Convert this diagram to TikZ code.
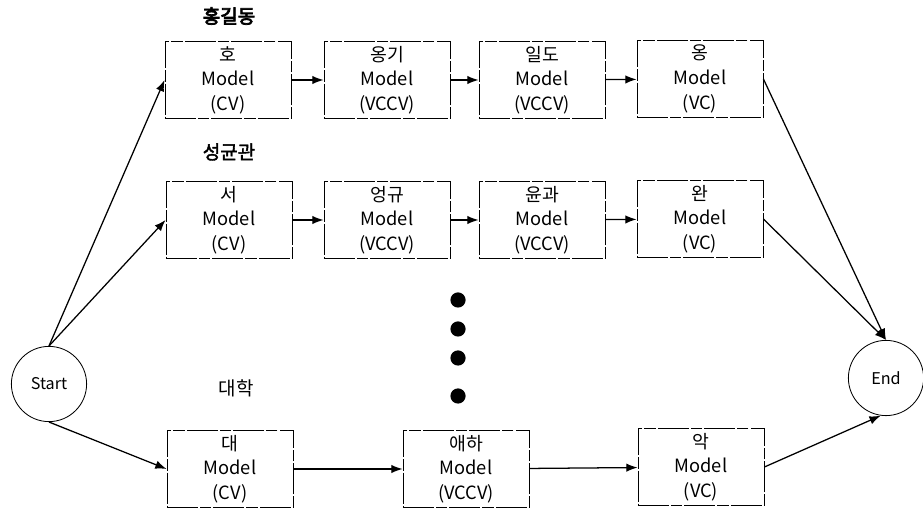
\documentclass[tikz,border=0pt]{standalone}
\usepackage{fontspec}
\setmainfont{Noto Sans CJK KR}
\newfontfamily\krtitle[AutoFakeBold=4]{Noto Sans CJK KR}
\newfontfamily\krsemi[AutoFakeBold=2]{Noto Sans CJK KR}
\usepackage{tikz}
\usetikzlibrary{arrows.meta, positioning}

\begin{document}
\begin{tikzpicture}[
  x=0.025cm, y=-0.025cm,
  every node/.style={font=\fontsize{13}{17.5}\selectfont},
  modelbox/.style={draw, line width=0.6pt, dash pattern=on 22pt off 1.5pt on 8pt off 1.5pt,
                   minimum width=3.15cm, minimum height=1.925cm, align=center, inner sep=1pt},
  endcirc/.style={draw, circle, line width=0.6pt, minimum size=1.88cm, inner sep=0pt,
                  font=\fontsize{11.5}{13}\selectfont},
  titletext/.style={font=\krtitle\bfseries\fontsize{13.5}{15}\selectfont},
  dot/.style={circle, fill=black, minimum size=0.38cm, inner sep=0pt},
  arrow/.style={-{Latex[length=8pt, width=6pt]}, line width=0.9pt},
]
\useasboundingbox (0,0) rectangle (923,511);

% ---- Start / End ----
\node[endcirc] (start_circ) at (49,384) {Start};
\node[endcirc] (end_circ) at (886,378) {End};

% ---- First word (top row) ----
\node[titletext] (hong_title) at (229,16) {홍길동};

\node[modelbox] (hong1) at (228,80) {호\\Model\\(CV)};
\node[modelbox] (hong2) at (387,80) {옹기\\Model\\(VCCV)};
\node[modelbox] (hong3) at (542,80) {일도\\Model\\(VCCV)};
\node[modelbox] (hong4) at (700,79) {옹\\Model\\(VC)};

\draw[arrow] (hong1) -- (hong2);
\draw[arrow] (hong2) -- (hong3);
\draw[arrow] (hong3) -- (hong4);

% ---- Second word (middle row) ----
\node[font=\krsemi\bfseries\fontsize{13.5}{15}\selectfont] (sung_title) at (229,152) {성균관};

\node[modelbox] (sung1) at (229,220) {서\\Model\\(CV)};
\node[modelbox] (sung2) at (387,220) {엉규\\Model\\(VCCV)};
\node[modelbox] (sung3) at (542,220) {윤과\\Model\\(VCCV)};
\node[modelbox] (sung4) at (700,219) {완\\Model\\(VC)};

\draw[arrow] (sung1) -- (sung2);
\draw[arrow] (sung2) -- (sung3);
\draw[arrow] (sung3) -- (sung4);

% ---- Vertical ellipsis ----
\foreach \i/\y in {1/300, 2/329, 3/358, 4/396}
  \node[dot] (dot\i) at (458,\y) {};

% ---- Last word (bottom row) ----
\node[font=\fontsize{13.5}{15}\selectfont] (dae_title) at (236,388) {대학};

\node[modelbox] (dae1) at (230,469) {대\\Model\\(CV)};
\node[modelbox] (dae2) at (466,469) {애하\\Model\\(VCCV)};
\node[modelbox] (dae3) at (701,467) {악\\Model\\(VC)};

\draw[arrow] (dae1) -- (dae2);
\draw[arrow] (dae2) -- (dae3);

% ---- Start and End connections ----
\draw[arrow] (start_circ.north) -- (hong1.west);
\draw[arrow] (start_circ.north) -- (sung1.west);
\draw[arrow] (start_circ.south) -- (dae1.west);

\draw[arrow] (hong4.east) -- (end_circ.north);
\draw[arrow] (sung4.east) -- (end_circ.north);
\draw[arrow] (dae3.east) -- (end_circ.262);

\end{tikzpicture}
\end{document}
